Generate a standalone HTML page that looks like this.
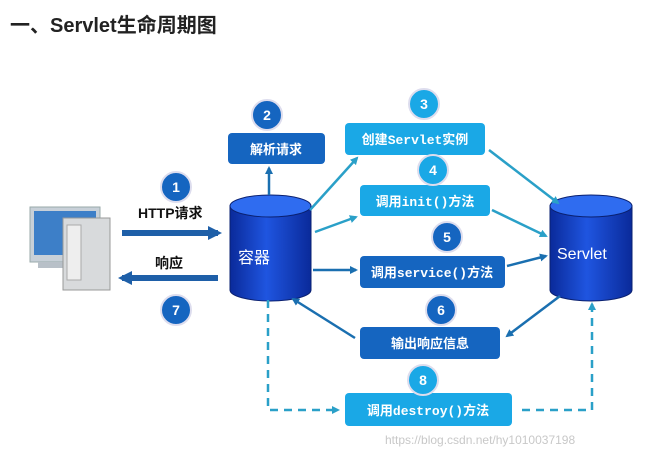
<!DOCTYPE html>
<html><head><meta charset="utf-8"><style>
body{margin:0;width:650px;height:458px;background:#fff;overflow:hidden;font-family:"Liberation Sans","Noto Sans CJK SC",sans-serif}
</style></head><body>
<svg width="650" height="458" viewBox="0 0 650 458" xmlns="http://www.w3.org/2000/svg" font-family="Liberation Sans, Noto Sans CJK SC, sans-serif">
<defs>
<linearGradient id="cyl" x1="0" x2="1"><stop offset="0" stop-color="#0a2a9a"/><stop offset="0.45" stop-color="#1f55e0"/><stop offset="1" stop-color="#0a2a9a"/></linearGradient>
<marker id="ah" markerWidth="8" markerHeight="8" refX="6" refY="4" orient="auto" markerUnits="userSpaceOnUse"><path d="M0,0 L8,4 L0,8 Z" fill="#1a6fb0"/></marker>
<marker id="ahc" markerWidth="8" markerHeight="8" refX="6" refY="4" orient="auto" markerUnits="userSpaceOnUse"><path d="M0,0 L8,4 L0,8 Z" fill="#2aa0c8"/></marker>
<marker id="big" markerWidth="14" markerHeight="14" refX="10" refY="7" orient="auto" markerUnits="userSpaceOnUse"><path d="M0,0 L14,7 L0,14 Z" fill="#1e5fa8"/></marker>
</defs>
<text x="10" y="32" font-size="20" font-weight="bold" fill="#222">一、Servlet生命周期图</text>

<!-- computer -->
<rect x="30" y="207" width="70" height="55" fill="#c8d0d8" stroke="#9aa" />
<rect x="34" y="211" width="62" height="44" fill="#3d7fc8"/>
<rect x="38" y="262" width="60" height="6" fill="#b8c0c8"/>
<rect x="63" y="218" width="47" height="72" fill="#d8dadc" stroke="#999"/>
<rect x="67" y="225" width="14" height="55" fill="#eee" stroke="#aaa"/>

<line x1="122" y1="233" x2="218" y2="233" stroke="#1e5fa8" stroke-width="6" marker-end="url(#big)"/>
<line x1="218" y1="278" x2="122" y2="278" stroke="#1e5fa8" stroke-width="6" marker-end="url(#big)"/>
<text x="138" y="218" font-size="14" font-weight="bold" fill="#111">HTTP请求</text>
<text x="155" y="268" font-size="14" font-weight="bold" fill="#111">响应</text>

<path d="M230,206 V290 A40.5,11 0 0 0 311,290 V206 Z" fill="url(#cyl)" stroke="#0a2070"/>
<ellipse cx="270.5" cy="206" rx="40.5" ry="11" fill="#2f6cf0" stroke="#0a2070"/>
<text x="238" y="263" font-size="16" fill="#fff">容器</text>

<path d="M550,206 V290 A41,11 0 0 0 632,290 V206 Z" fill="url(#cyl)" stroke="#0a2070"/>
<ellipse cx="591" cy="206" rx="41" ry="11" fill="#2f6cf0" stroke="#0a2070"/>
<text x="557" y="259" font-size="16" fill="#fff">Servlet</text>

<rect x="228" y="133" width="97" height="31" rx="4" fill="#1565c0"/>
<text x="276" y="154" font-size="13" font-weight="bold" fill="#fff" text-anchor="middle">解析请求</text>
<rect x="345" y="123" width="140" height="32" rx="4" fill="#1aa8e6"/>
<text x="415" y="144" font-size="13" font-weight="bold" fill="#fff" text-anchor="middle">创建<tspan font-family="Liberation Mono, monospace">Servlet</tspan>实例</text>
<rect x="360" y="185" width="130" height="31" rx="4" fill="#1aa8e6"/>
<text x="425" y="206" font-size="13" font-weight="bold" fill="#fff" text-anchor="middle">调用<tspan font-family="Liberation Mono, monospace">init()</tspan>方法</text>
<rect x="360" y="256" width="145" height="32" rx="4" fill="#1565c0"/>
<text x="432" y="277" font-size="13" font-weight="bold" fill="#fff" text-anchor="middle">调用<tspan font-family="Liberation Mono, monospace">service()</tspan>方法</text>
<rect x="360" y="327" width="140" height="32" rx="4" fill="#1565c0"/>
<text x="430" y="348" font-size="13" font-weight="bold" fill="#fff" text-anchor="middle">输出响应信息</text>
<rect x="345" y="393" width="167" height="33" rx="4" fill="#1aa8e6"/>
<text x="428" y="415" font-size="13" font-weight="bold" fill="#fff" text-anchor="middle">调用<tspan font-family="Liberation Mono, monospace">destroy()</tspan>方法</text>

<line x1="269" y1="195" x2="269" y2="168" stroke="#1a6fb0" stroke-width="2.5" marker-end="url(#ah)"/>
<line x1="310" y1="210" x2="357" y2="158" stroke="#2aa0c8" stroke-width="2.5" marker-end="url(#ahc)"/>
<line x1="315" y1="232" x2="356" y2="217" stroke="#2aa0c8" stroke-width="2.5" marker-end="url(#ahc)"/>
<line x1="313" y1="270" x2="356" y2="270" stroke="#1a6fb0" stroke-width="2.5" marker-end="url(#ah)"/>
<line x1="355" y1="338" x2="293" y2="299" stroke="#1a6fb0" stroke-width="2.5" marker-end="url(#ah)"/>
<line x1="489" y1="150" x2="558" y2="203" stroke="#2aa0c8" stroke-width="2.5" marker-end="url(#ahc)"/>
<line x1="492" y1="210" x2="546" y2="236" stroke="#2aa0c8" stroke-width="2.5" marker-end="url(#ahc)"/>
<line x1="507" y1="266" x2="546" y2="256" stroke="#1a6fb0" stroke-width="2.5" marker-end="url(#ah)"/>
<line x1="560" y1="296" x2="507" y2="336" stroke="#1a6fb0" stroke-width="2.5" marker-end="url(#ah)"/>
<polyline points="268,300 268,410 338,410" fill="none" stroke="#2aa0c8" stroke-width="2.5" stroke-dasharray="8,6" marker-end="url(#ahc)"/>
<polyline points="522,410 592,410 592,304" fill="none" stroke="#2aa0c8" stroke-width="2.5" stroke-dasharray="8,6" marker-end="url(#ahc)"/>

<g font-size="14" font-weight="bold" fill="#fff" text-anchor="middle">
<circle cx="176" cy="187" r="15" fill="#1565c0" stroke="#dde" stroke-width="2"/><text x="176" y="192">1</text>
<circle cx="267" cy="115" r="15" fill="#1565c0" stroke="#dde" stroke-width="2"/><text x="267" y="120">2</text>
<circle cx="424" cy="104" r="15" fill="#1aa8e6" stroke="#dde" stroke-width="2"/><text x="424" y="109">3</text>
<circle cx="433" cy="170" r="15" fill="#1aa8e6" stroke="#dde" stroke-width="2"/><text x="433" y="175">4</text>
<circle cx="447" cy="237" r="15" fill="#1565c0" stroke="#dde" stroke-width="2"/><text x="447" y="242">5</text>
<circle cx="441" cy="310" r="15" fill="#1565c0" stroke="#dde" stroke-width="2"/><text x="441" y="315">6</text>
<circle cx="176" cy="310" r="15" fill="#1565c0" stroke="#dde" stroke-width="2"/><text x="176" y="315">7</text>
<circle cx="423" cy="380" r="15" fill="#1aa8e6" stroke="#dde" stroke-width="2"/><text x="423" y="385">8</text>
</g>
<text x="385" y="444" font-size="12" fill="#c8c8c8">https://blog.csdn.net/hy1010037198</text>
</svg>
</body></html>
